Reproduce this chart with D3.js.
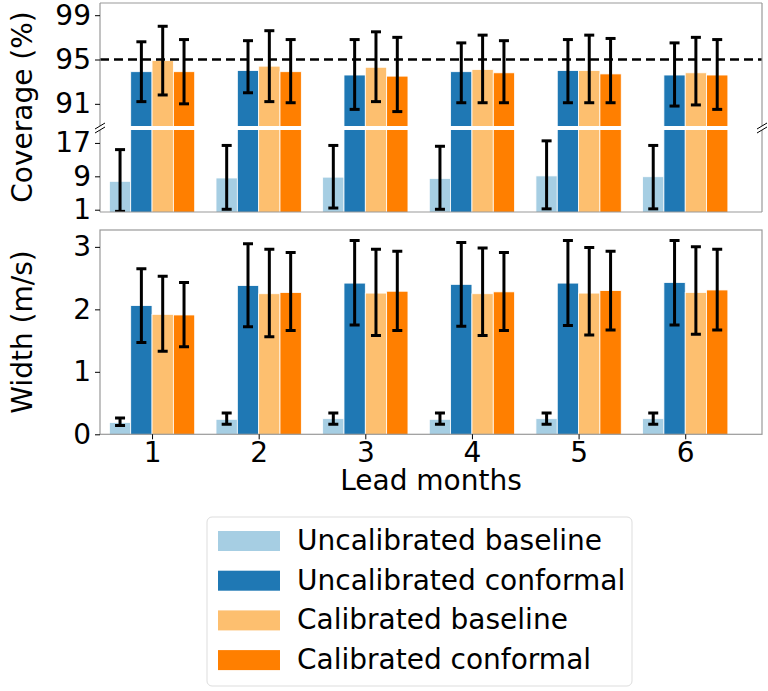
<!DOCTYPE html><html><head><meta charset="utf-8"><script src="https://cdn.jsdelivr.net/npm/d3@7"></script>
<style>body{margin:0;background:#fff}text{font-family:"DejaVu Sans",sans-serif}</style></head><body><svg id="c" width="768" height="691"></svg>
<script>
const leads=[1,2,3,4,5,6];
const seriesNames=["Uncalibrated baseline","Uncalibrated conformal","Calibrated baseline","Calibrated conformal"];
const colors=["#a6cee3","#1f78b4","#fdbf6f","#ff7f00"];
const covMean=[[7.8,8.6,8.8,8.5,9.1,8.9],[93.9,94.0,93.6,93.9,94.0,93.6],[94.9,94.4,94.3,94.1,94.0,93.8],[93.9,93.9,93.5,93.8,93.7,93.6]];
const covLo=[[0.6,1.1,1.4,1.1,1.2,1.2],[91.2,92.0,90.5,91.1,91.1,90.8],[91.8,91.2,91.2,91.1,91.1,90.9],[91.0,91.1,90.3,91.1,91.1,90.5]];
const covHi=[[15.4,16.4,16.4,16.2,17.5,16.4],[96.6,96.7,96.8,96.5,96.8,96.5],[98.0,97.6,97.5,97.2,97.2,97.0],[96.8,96.8,97.0,96.7,96.9,96.8]];
const widMean=[[0.19,0.24,0.25,0.24,0.25,0.25],[2.06,2.38,2.42,2.40,2.42,2.43],[1.92,2.25,2.26,2.25,2.26,2.27],[1.91,2.27,2.29,2.28,2.30,2.31]];
const widLo=[[0.14,0.16,0.16,0.16,0.16,0.16],[1.47,1.72,1.75,1.73,1.74,1.75],[1.33,1.56,1.58,1.58,1.59,1.60],[1.40,1.66,1.66,1.66,1.67,1.67]];
const widHi=[[0.26,0.34,0.34,0.34,0.34,0.34],[2.65,3.05,3.10,3.07,3.10,3.10],[2.53,2.96,2.96,2.98,2.99,3.00],[2.43,2.91,2.93,2.91,2.93,2.96]];
const covTicksUp=[91,95,99], covTicksLo=[1,9,17], widTicks=[0,1,2,3];

const FS=28;
const svg=d3.select("#c");
const L=100,R=762;
const x=d3.scaleLinear().domain([0.512,6.72]).range([L,R]);
const bw=x(0.2)-x(0);
const yU=d3.scaleLinear().domain([89,100.1]).range([126,3]);
const yL=d3.scaleLinear().domain([0.45,20.1]).range([212,130]);
const yW=d3.scaleLinear().domain([0,3.27]).range([434.3,230]);
const defs=svg.append("defs");
function clip(id,y0,y1){defs.append("clipPath").attr("id",id).append("rect").attr("x",L).attr("y",y0).attr("width",R-L).attr("height",y1-y0);}
clip("cu",3,126);clip("cl",130,212);clip("cw",230,434.3);
function panel(y,means,los,his,cid){
  const g=svg.append("g").attr("clip-path",`url(#${cid})`);
  means.forEach((s,si)=>{
    const off=(si-1.5)*0.2;
    s.forEach((v,i)=>{
      const xc=x(leads[i]+off);
      const y0=y(y.domain()[0]-5);
      g.append("rect").attr("x",xc-bw/2).attr("width",bw).attr("y",y(v)).attr("height",Math.max(0,y0-y(v)))
       .attr("fill",colors[si]).attr("stroke","#fff").attr("stroke-width",0.8);
    });
  });
  means.forEach((s,si)=>{
    const off=(si-1.5)*0.2;
    s.forEach((v,i)=>{
      const xc=x(leads[i]+off),a=y(los[si][i]),b=y(his[si][i]);
      const e=g.append("g").attr("stroke","#000").attr("stroke-width",3);
      e.append("line").attr("x1",xc).attr("x2",xc).attr("y1",a).attr("y2",b);
      e.append("line").attr("x1",xc-5).attr("x2",xc+5).attr("y1",a).attr("y2",a);
      e.append("line").attr("x1",xc-5).attr("x2",xc+5).attr("y1",b).attr("y2",b);
    });
  });
}
panel(yU,covMean,covLo,covHi,"cu");
panel(yL,covMean,covLo,covHi,"cl");
panel(yW,widMean,widLo,widHi,"cw");
svg.append("line").attr("x1",L).attr("x2",R).attr("y1",yU(95)).attr("y2",yU(95)).attr("stroke","#000").attr("stroke-width",2.5).attr("stroke-dasharray","9,5");
const sp="#999";
function ln(x1,y1,x2,y2){svg.append("line").attr("x1",x1).attr("y1",y1).attr("x2",x2).attr("y2",y2).attr("stroke",sp).attr("stroke-width",1.2);}
ln(L,3,R,3);ln(L,3,L,126);ln(R,3,R,126);
ln(L,130,L,212);ln(R,130,R,212);ln(L,212,R,212);
svg.append("rect").attr("x",L).attr("y",230).attr("width",R-L).attr("height",434.3-230).attr("fill","none").attr("stroke",sp).attr("stroke-width",1.2);
[[L,126],[L,130],[R,126],[R,130]].forEach(([a,b])=>svg.append("line").attr("x1",a-5).attr("y1",b+3).attr("x2",a+5).attr("y2",b-3).attr("stroke","#000").attr("stroke-width",1));
function styleAxis(g){
  g.select(".domain").remove();
  g.attr("font-size",FS).attr("font-family","DejaVu Sans");
  g.selectAll("line").attr("stroke","#000");
  g.selectAll("text").style("font-size",FS+"px").attr("fill","#000");
}
function yAxis(scale,ticks){
  styleAxis(svg.append("g").attr("transform",`translate(${L},0)`).call(d3.axisLeft(scale).tickValues(ticks).tickSize(5).tickPadding(4).tickFormat(d3.format("d"))));
}
yAxis(yU,covTicksUp);yAxis(yL,covTicksLo);yAxis(yW,widTicks);
styleAxis(svg.append("g").attr("transform","translate(0,434.3)").call(d3.axisBottom(x).tickValues(leads).tickSize(5).tickPadding(3).tickFormat(d3.format("d"))));
svg.append("text").attr("x",(L+R)/2).attr("y",490).attr("text-anchor","middle").style("font-size",FS+"px").text("Lead months");
svg.append("text").attr("transform","translate(32,107) rotate(-90)").attr("text-anchor","middle").style("font-size",FS+"px").text("Coverage (%)");
svg.append("text").attr("transform","translate(32,332) rotate(-90)").attr("text-anchor","middle").style("font-size",FS+"px").text("Width (m/s)");
const lg=svg.append("g");
lg.append("rect").attr("x",207).attr("y",517).attr("width",425).attr("height",169).attr("rx",5).attr("fill","#fff").attr("stroke","#ddd");
seriesNames.forEach((n,i)=>{
  const cy=540+i*39.7;
  lg.append("rect").attr("x",218).attr("y",cy-9).attr("width",62).attr("height",20).attr("fill",colors[i]);
  lg.append("text").attr("x",297).attr("y",cy+10).style("font-size",FS+"px").text(n);
});
</script></body></html>
